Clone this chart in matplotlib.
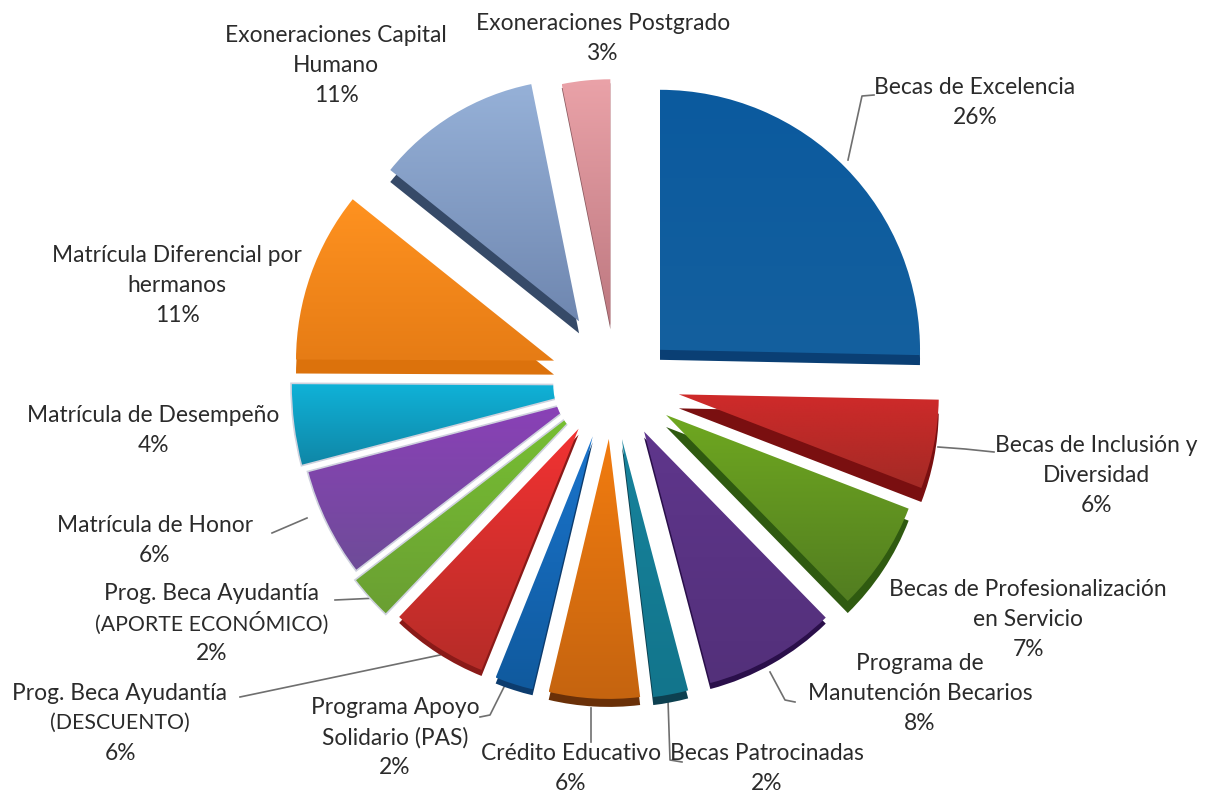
import numpy as np
import matplotlib
matplotlib.use("Agg")
import matplotlib.pyplot as plt
from matplotlib.colors import LinearSegmentedColormap

# slice sizes, the labels carry the rounded percentages
values = [25.6, 5.6, 6.9, 8.3, 2.2, 5.7, 2.4, 6.1, 2.49, 6.4, 4.2, 10.8, 11.2, 3.2]
names = [
    "Becas de Excelencia\n26%",
    "Becas de Inclusión y\nDiversidad\n6%",
    "Becas de Profesionalización\nen Servicio\n7%",
    "Programa de\nManutención Becarios\n8%",
    "Becas Patrocinadas\n2%",
    "Crédito Educativo\n6%",
    "Programa Apoyo\nSolidario (PAS)\n2%",
    "Prog. Beca Ayudantía\n(DESCUENTO)\n6%",
    "Prog. Beca Ayudantía\n(APORTE ECONÓMICO)\n2%",
    "Matrícula de Honor\n6%",
    "Matrícula de Desempeño\n4%",
    "Matrícula Diferencial por\nhermanos\n11%",
    "Exoneraciones Capital\nHumano\n11%",
    "Exoneraciones Postgrado\n3%",
]
top_colors = ["#0b5a9e", "#cf2a2a", "#6fa820", "#5f368c", "#17839c", "#f27c10",
              "#1a74cc", "#f23232", "#78c232", "#8b40b8", "#10b2d8", "#ff9220",
              "#96b1d8", "#eaa2a8"]
low_colors = ["#14609f", "#a32a25", "#527d20", "#53307a", "#12758c", "#c5640f",
              "#105a9e", "#b62c28", "#6a9f32", "#6e4c98", "#0f86a6", "#e67c15",
              "#6f87b0", "#bd7880"]
side_colors = ["#0a3f74", "#7a0f10", "#2f5a10", "#2a0f4a", "#0d4050", "#6a3008",
               "#0c3c6e", "#8a1a18", "#4f8222", "#5a3a80", "#0a7a98", "#dc720c",
               "#364a68", "#8a5a60"]
# pixels: offset from the pie centre, depth of the dark side, slice radius, small shift
explode = [56, 64, 60, 57, 58, 57, 57, 58, 24, 42, 6, 70, 71, 57]
side_drop = [10, 14, 12, 6, 8, 8, 6, 6, 0, 0, 0, 14, 12, 4]
radii = [260, 260, 260, 260, 260, 260, 260, 260, 299, 280, 319, 258, 242, 246]
shift_x = [4, 0, 0, 0, -5, -4, -6, -6, -6, 0, 0, 4, 0, 0]
shift_y = [7, 0, 0, 0, 0, 0, 0, -2, 0, 0, 2, 2, 0, 0]
# these three run in under the white hole, their tips are cut off by it
edged = [8, 9, 10]

label_x = [975, 1096, 1028, 920, 767, 571, 395, 120, 212, 155, 153, 177, 336, 603]
label_y = [102, 475, 619, 693, 769, 769, 738, 723, 623, 540, 431, 286, 66, 39]
leaders = [
    ([848, 862, 874], [160, 96, 95]),
    ([938, 965, 994], [447, 449, 452]),
    ([770, 785, 795], [672, 700, 702]),
    ([668, 670, 682], [700, 760, 762]),
    ([591, 591], [708, 742]),
    ([505, 490, 480], [685, 715, 717]),
    ([440, 240], [655, 697]),
    ([378, 335], [598, 600]),
    ([307, 272], [518, 533]),
]

W, H = 1212, 793
cx, cy, R = 616, 382, 260

fig = plt.figure(figsize=(W / 100, H / 100), dpi=100)
ax = fig.add_axes([0, 0, 1, 1])

for xs, ys in leaders:
    ax.plot(xs, [H - y for y in ys], color="#6f6f6f", lw=1.2, zorder=1)

# dark copy underneath gives the extruded look
sides, _ = ax.pie(values, explode=explode, startangle=90, counterclock=False, radius=R,
                  center=(cx, H - cy), colors=side_colors)
for i, (s, drop, r, dx, dy) in enumerate(zip(sides, side_drop, radii, shift_x, shift_y)):
    s.set_center((s.center[0] + dx, s.center[1] - dy - drop))
    s.set_radius(r)
    s.set_zorder(2 if i in edged else 3.3)

wedges, _ = ax.pie(values, explode=explode, startangle=90, counterclock=False, radius=R,
                   center=(cx, H - cy), colors=low_colors)
for w, r, dx, dy in zip(wedges, radii, shift_x, shift_y):
    w.set_center((w.center[0] + dx, w.center[1] - dy))
    w.set_radius(r)

grad = np.linspace(0, 1, 256).reshape(-1, 1)
for i, (w, c1, c2) in enumerate(zip(wedges, top_colors, low_colors)):
    cmap = LinearSegmentedColormap.from_list("g", [c1, c2])
    box = w.get_path().get_extents(w.get_patch_transform())
    im = ax.imshow(grad, cmap=cmap, aspect="auto", origin="upper",
                   extent=[box.x0, box.x1, box.y0, box.y1],
                   zorder=3 if i in edged else 3.5)
    im.set_clip_path(w)
    w.set_facecolor("none")
    if i in edged:
        w.set_edgecolor("#cfd2de")
        w.set_linewidth(1.2)
        w.set_zorder(3.1)
    else:
        w.set_edgecolor("none")
        w.set_zorder(4)

ax.add_patch(plt.Circle((cx, H - 385), 62, color="white", zorder=3.2))

for txt, x, y in zip(names, label_x, label_y):
    lines = txt.split("\n")
    for j, line in enumerate(lines):
        # capitals run wide in Lato
        size = 15.3 if line.isupper() else 16.4
        ax.text(x, H - (y + (j - (len(lines) - 1) / 2) * 30), line, ha="center", va="center",
                family="Lato", fontsize=size, color="#2b2b2b", zorder=5)

ax.set_xlim(0, W)
ax.set_ylim(0, H)
ax.set_aspect("auto")
ax.axis("off")

fig.savefig("out.png", dpi=100)
